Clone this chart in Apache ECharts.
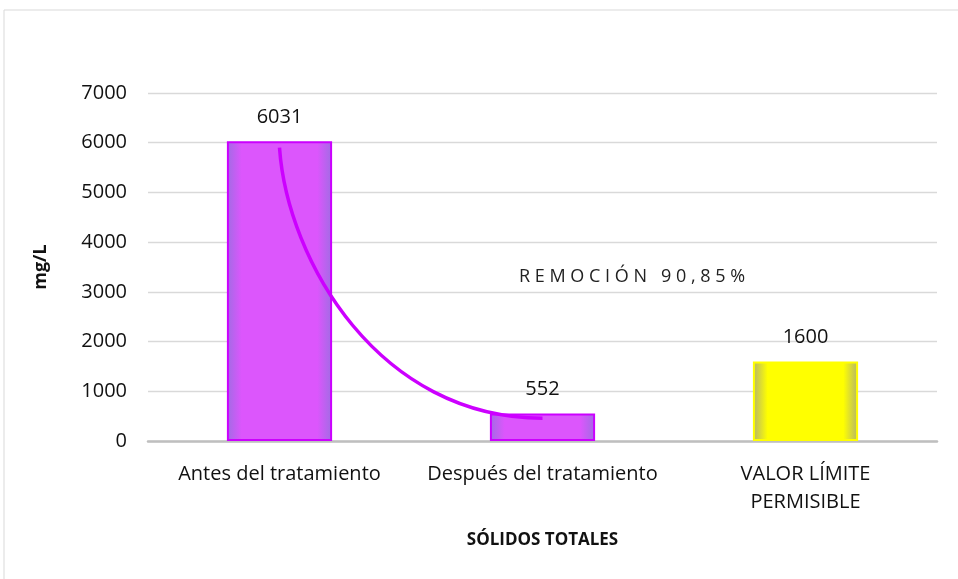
<!DOCTYPE html>
<html>
<head>
<meta charset="utf-8">
<script src="https://cdn.jsdelivr.net/npm/echarts@6/dist/echarts.min.js"></script>
<style>
    html, body { margin: 0; padding: 0; background: #fff; }
    #chart { width: 958px; height: 579px; }
</style>
</head>
<body>
<div id="chart"></div>
<script>
    const categories = ['Antes del tratamiento', 'Después del tratamiento', 'VALOR LÍMITE\nPERMISIBLE'];
    const values = [6031, 552, 1600];
    const yTicks = { min: 0, max: 7000, interval: 1000 };
    // arrow-like curve: from top of first bar down to the second one
    const curveStart = [0, 5900];
    const curveEnd = [1, 460];
    const removalText = 'REMOCIÓN 90,85%';

    const FONT = '"Open Sans", sans-serif';

    function edgeFill(edge, mid) {
        return {
            type: 'linear', x: 0, y: 0, x2: 1, y2: 0,
            colorStops: [
                { offset: 0, color: edge },
                { offset: 0.14, color: mid },
                { offset: 0.86, color: mid },
                { offset: 1, color: edge }
            ]
        };
    }

    const barData = values.map(function (v, i) {
        const last = i === values.length - 1;
        return {
            value: v,
            itemStyle: {
                color: last ? edgeFill('#B4B46C', '#FFFF00') : edgeFill('#A06CE4', '#DC56FC'),
                borderColor: last ? '#FFFF00' : '#CC00FF',
                borderWidth: 2
            }
        };
    });

    const spaced = removalText.split('').join(' ');

    const chart = echarts.init(document.getElementById('chart'));
    chart.setOption({
        animation: false,
        backgroundColor: '#fff',
        grid: { left: 148, right: 21, top: 93, bottom: 138 },
        graphic: [
            {
                type: 'rect', silent: true, z: -1,
                shape: { x: 4, y: 10, width: 1000, height: 600 },
                style: { fill: 'none', stroke: '#D9D9D9', lineWidth: 1 }
            },
            {
                type: 'text', left: 519, top: 268,
                style: { text: spaced, font: '18px ' + FONT, fill: '#222' }
            }
        ],
        xAxis: {
            type: 'category',
            data: categories,
            name: 'SÓLIDOS TOTALES',
            nameLocation: 'middle',
            nameGap: 91,
            nameTextStyle: { fontFamily: FONT, fontSize: 17, fontWeight: 'bold', color: '#111' },
            axisLine: { lineStyle: { color: '#BFBFBF', width: 2.5 } },
            axisTick: { show: false },
            axisLabel: { fontFamily: FONT, fontSize: 20, color: '#111', margin: 19, lineHeight: 28, interval: 0 }
        },
        yAxis: {
            type: 'value',
            min: yTicks.min, max: yTicks.max, interval: yTicks.interval,
            name: 'mg/L',
            nameLocation: 'middle',
            nameGap: 98,
            nameRotate: 90,
            nameTextStyle: { fontFamily: FONT, fontSize: 18, fontWeight: 'bold', color: '#111' },
            axisLine: { show: false },
            axisTick: { show: false },
            axisLabel: {
                fontFamily: FONT, fontSize: 20, color: '#111', margin: 21,
                formatter: function (v) { return String(v); }
            },
            splitLine: { lineStyle: { color: '#D9D9D9', width: 1.3 } }
        },
        series: [
            {
                type: 'bar',
                data: barData,
                barWidth: '40%',
                label: {
                    show: true, position: 'top', distance: 14,
                    fontFamily: FONT, fontSize: 20, color: '#111'
                }
            },
            {
                type: 'custom',
                data: [curveStart.concat(curveEnd)],
                z: 5,
                renderItem: function (params, api) {
                    const p0 = api.coord([api.value(0), api.value(1)]);
                    const p3 = api.coord([api.value(2), api.value(3)]);
                    const dx = p3[0] - p0[0], dy = p3[1] - p0[1];
                    return {
                        type: 'bezierCurve',
                        shape: {
                            x1: p0[0], y1: p0[1],
                            cpx1: p0[0] + dx * 0.03, cpy1: p0[1] + dy * 0.42,
                            cpx2: p0[0] + dx * 0.38, cpy2: p3[1],
                            x2: p3[0], y2: p3[1]
                        },
                        style: { fill: 'none', stroke: '#CC00FF', lineWidth: 3.5 }
                    };
                }
            }
        ]
    });
</script>
</body>
</html>
